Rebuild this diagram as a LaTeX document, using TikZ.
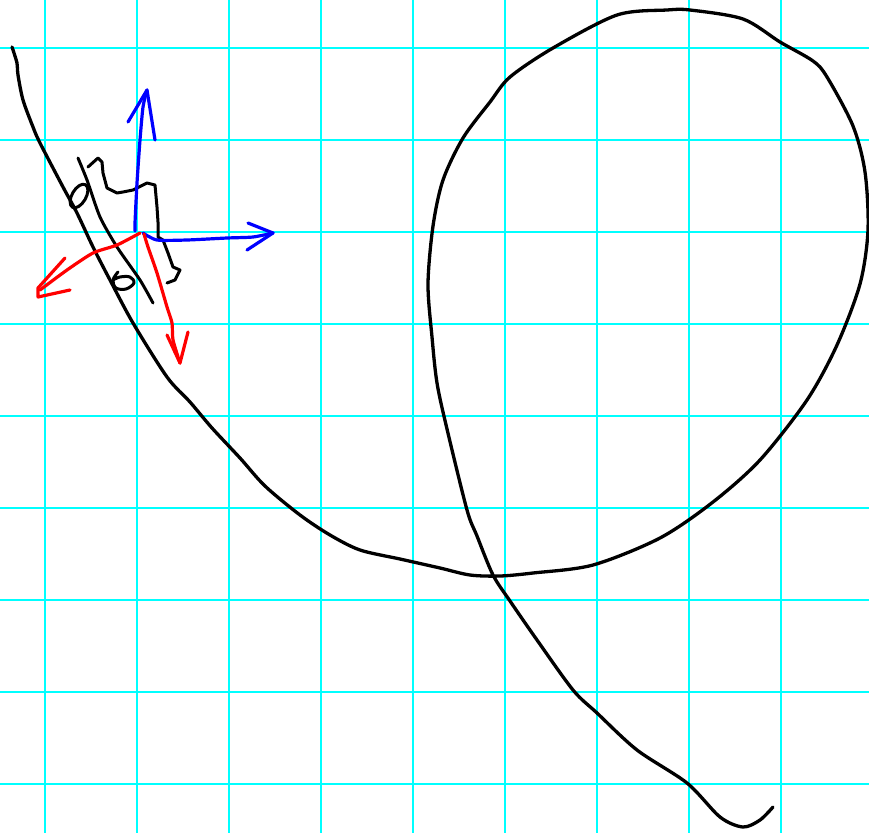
\documentclass[tikz,border=0pt]{standalone}
\usepackage{tikz}
\definecolor{gridcyan}{RGB}{0,255,255}
\definecolor{penblue}{RGB}{0,0,255}
\definecolor{penred}{RGB}{255,0,0}

\begin{document}
\begin{tikzpicture}[
x=1pt, y=-1pt,
gridline/.style={draw=gridcyan, line width=2pt},
track/.style={draw=black, line width=3.3pt, line cap=round, line join=round},
carline/.style={draw=black, line width=3pt, line cap=round, line join=round},
bluearrow/.style={draw=penblue, line width=3.2pt, line cap=round, line join=round},
redarrow/.style={draw=penred, line width=3.2pt, line cap=round, line join=round}
]
\useasboundingbox[fill=white] (0,0) rectangle (869,833);
% grid
\foreach \x in {45,137,...,781}
  \draw[gridline] (\x,0) -- (\x,833);
\foreach \y in {48,140,...,784}
  \draw[gridline] (0,\y) -- (869,\y);
% track with loop
\draw[track] plot[smooth, tension=0.5] coordinates {
  (12,47) (17,63) (18,75) (23,100) (33,127) (40,143) (63,187) (77,213)
  (93,247) (110,280) (133,323) (167,377) (190,402) (212,428) (240,458)
  (265,486) (300,515) (330,535) (360,550) (400,559) (440,568) (470,575)
  (500,576) (533,573) (593,565) (660,538) (713,502) (760,460) (807,400)
  (837,345) (860,284) (868,230) (865,172) (853,126) (827,77) (813,61)
  (780,42) (743,19) (690,10) (667,10) (617,15) (553,48) (510,77) (490,102)
  (463,138) (443,180) (433,226) (428,284) (432,337) (437,383) (447,429)
  (467,510) (477,536) (493,575) (510,601) (537,640) (573,690) (597,713)
  (637,750) (687,783) (720,817) (743,827) (760,820) (773,807)};
% car
\draw[carline] plot[smooth, tension=0.4] coordinates {
  (78,158) (87,180) (100,217) (117,247) (140,280) (153,303)};
\draw[carline] (88,167) -- (98,158) -- (102,162) -- (103,173) -- (107,188)
  -- (117,193) -- (123,192) -- (133,190) -- (147,183) -- (155,185)
  -- (157,207) -- (158,222) -- (158,237) -- (163,240) -- (168,253)
  -- (173,267) -- (180,270) -- (175,280) -- (167,283);
\draw[carline, rotate around={-30:(79,196)}] (79,196) ellipse [x radius=7, y radius=13];
\draw[carline] plot[smooth, tension=0.6] coordinates {
  (118,272) (113,280) (116,288) (126,289) (134,283) (130,277) (120,277) (113,280)};
% blue axes
\draw[bluearrow] plot[smooth, tension=0.4] coordinates {
  (135,231) (135,223) (137,183) (140,140) (143,107) (147,90)};
\draw[bluearrow] (128,122) -- (147,90) -- (155,140);
\draw[bluearrow] plot[smooth, tension=0.4] coordinates {
  (143,233) (157,240) (187,240) (227,238) (253,237) (273,233)};
\draw[bluearrow] (248,223) -- (273,233) -- (247,250);
% red axes
\draw[redarrow] plot[smooth, tension=0.4] coordinates {
  (140,233) (117,245) (93,253) (67,270) (40,290)};
\draw[redarrow] (65,258) -- (38,288) -- (38,297) -- (70,290);
\draw[redarrow] plot[smooth, tension=0.4] coordinates {
  (144,234) (148,247) (157,273) (167,307) (172,323) (173,340) (180,363)};
\draw[redarrow] (167,335) -- (180,363) -- (188,332);
\end{tikzpicture}
\end{document}
